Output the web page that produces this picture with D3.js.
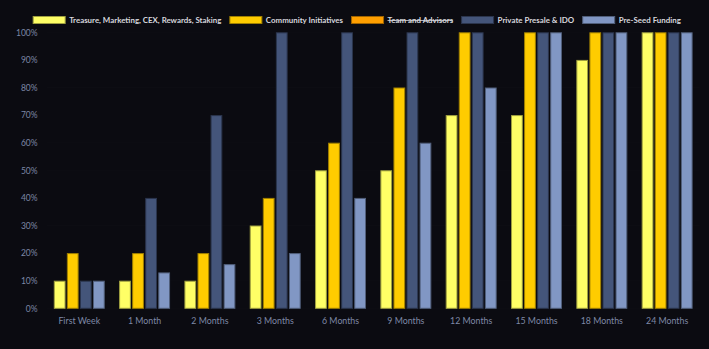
<!DOCTYPE html>
<html>
<head>
<meta charset="utf-8">
<script src="https://cdn.jsdelivr.net/npm/d3@7"></script>
<style>
  html, body { margin: 0; padding: 0; background: #0b0b11; }
  svg { display: block; }
</style>
</head>
<body>
<svg id="chart" width="709" height="349"></svg>
<script>
// Data
const categories = ["First Week", "1 Month", "2 Months", "3 Months", "6 Months",
    "9 Months", "12 Months", "15 Months", "18 Months", "24 Months"];
const seriesNames = ["Treasure, Marketing, CEX, Rewards, Staking", "Community Initiatives",
    "Team and Advisors", "Private Presale & IDO", "Pre-Seed Funding"];
const seriesColors = ["#ffff66", "#ffcc00", "#ff9f00", "#44557a", "#8197c4"];
const hiddenSeries = ["Team and Advisors"];
const treasureValues = [10, 10, 10, 30, 50, 50, 70, 70, 90, 100];
const communityValues = [20, 20, 20, 40, 60, 80, 100, 100, 100, 100];
const privateValues = [10, 40, 70, 100, 100, 100, 100, 100, 100, 100];
const preSeedValues = [10, 13, 16, 20, 40, 60, 80, 100, 100, 100];
const yTicks = [0, 10, 20, 30, 40, 50, 60, 70, 80, 90, 100];

const valuesBySeries = {
    "Treasure, Marketing, CEX, Rewards, Staking": treasureValues,
    "Community Initiatives": communityValues,
    "Private Presale & IDO": privateValues,
    "Pre-Seed Funding": preSeedValues
};

const svg = d3.select("#chart"),
    width = +svg.attr("width"),
    height = +svg.attr("height");

const margin = { top: 32.3, right: 9.2, bottom: 40.7, left: 46.6 };

const visible = seriesNames.filter(s => !hiddenSeries.includes(s));
const colorOf = d3.scaleOrdinal().domain(seriesNames).range(seriesColors);

// Scales
const x0 = d3.scaleBand()
    .domain(categories)
    .range([margin.left, width - margin.right])
    .padding(0);

const x1 = d3.scaleBand()
    .domain(visible)
    .range([x0.bandwidth() * 0.1, x0.bandwidth() * 0.9])
    .paddingInner(0.1)
    .paddingOuter(0.05);

const y = d3.scaleLinear()
    .domain([0, 100])
    .range([height - margin.bottom, margin.top]);

// Faint grid
svg.append("g")
    .selectAll("line")
    .data(yTicks)
    .enter()
    .append("line")
    .attr("x1", margin.left)
    .attr("x2", width - margin.right)
    .attr("y1", d => y(d))
    .attr("y2", d => y(d))
    .attr("stroke", "rgba(255,255,255,0.012)");

// Y axis
const yAxis = d3.axisLeft(y)
    .tickValues(yTicks)
    .tickSize(0)
    .tickPadding(9)
    .tickFormat(d => d + "%");

svg.append("g")
    .attr("transform", `translate(${margin.left}, 0)`)
    .call(yAxis)
    .call(g => g.select(".domain").remove())
    .selectAll("text")
    .attr("fill", "#7c87a6")
    .style("font-family", "Lato, sans-serif")
    .style("font-size", "8.5px");

// X axis
const xAxis = d3.axisBottom(x0).tickSize(0).tickPadding(9);

svg.append("g")
    .attr("transform", `translate(0, ${height - margin.bottom})`)
    .call(xAxis)
    .call(g => g.select(".domain").remove())
    .selectAll("text")
    .attr("fill", "#7f89a6")
    .style("font-family", "Lato, sans-serif")
    .style("font-size", "8.8px");

// Bars
const groups = svg.append("g")
    .selectAll("g")
    .data(categories)
    .enter()
    .append("g")
    .attr("transform", d => `translate(${x0(d)}, 0)`);

groups.selectAll("rect")
    .data((c, i) => visible.map(s => ({ series: s, value: valuesBySeries[s][i] })))
    .enter()
    .append("rect")
    .attr("x", d => x1(d.series) + 0.5)
    .attr("y", d => y(d.value) + 0.5)
    .attr("width", x1.bandwidth() - 1)
    .attr("height", d => y(0) - y(d.value) - 0.5)
    .attr("fill", d => colorOf(d.series))
    .attr("stroke", d => d3.color(colorOf(d.series)).darker(1.3))
    .attr("stroke-width", 1);

// Legend
const legend = svg.append("g").attr("class", "legend");
const boxW = 32, boxH = 7, textGap = 4, itemGap = 8.5;
let lx = 0;
seriesNames.forEach(name => {
    const item = legend.append("g").attr("transform", `translate(${lx}, 0)`);
    item.append("rect")
        .attr("x", 0)
        .attr("y", 16.5)
        .attr("width", boxW)
        .attr("height", boxH)
        .attr("fill", colorOf(name))
        .attr("stroke", d3.color(colorOf(name)).darker(1.3))
        .attr("stroke-width", 1);
    const t = item.append("text")
        .attr("x", boxW + textGap)
        .attr("y", 23.2)
        .attr("fill", "#d7d7dd")
        .style("font-family", "Lato, sans-serif")
        .style("font-weight", "bold")
        .style("font-size", "7.9px")
        .style("text-decoration", hiddenSeries.includes(name) ? "line-through" : "none")
        .text(name);
    lx += boxW + textGap + t.node().getComputedTextLength() + itemGap;
});
const legendWidth = lx - itemGap;
legend.attr("transform", `translate(${(width - legendWidth) / 2 + 2.5}, 0)`);
</script>
</body>
</html>
